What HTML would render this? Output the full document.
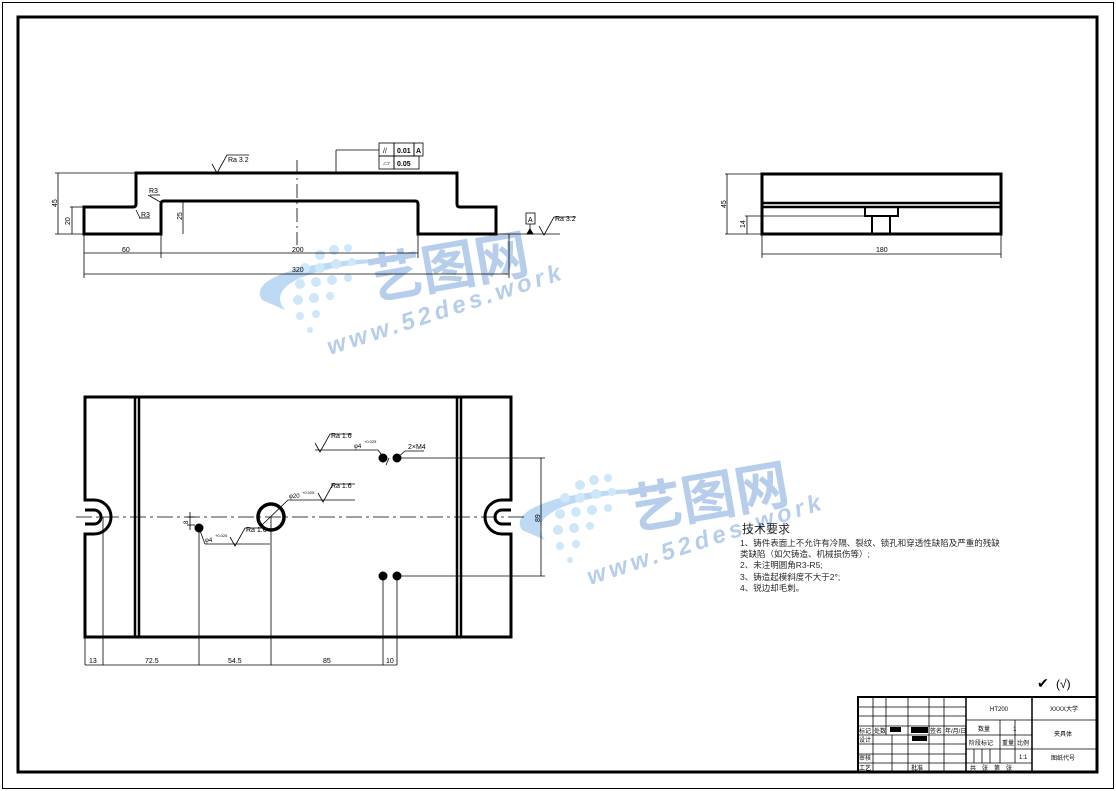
<!DOCTYPE html>
<html><head><meta charset="utf-8"><style>
html,body{margin:0;padding:0;background:#fff;width:1116px;height:791px;overflow:hidden}
svg{display:block}
text{font-family:"Liberation Sans","Noto Sans CJK SC",sans-serif;fill:#000}
</style></head><body>
<svg width="1116" height="791" viewBox="0 0 1116 791" xmlns="http://www.w3.org/2000/svg">
<rect x="0" y="0" width="1116" height="791" fill="#fff"/>
<rect x="2.5" y="2.5" width="1111" height="786" fill="none" stroke="#000" stroke-width="1"/>
<rect x="18" y="17" width="1079" height="755" fill="none" stroke="#000" stroke-width="3"/>

<!-- watermark 1 -->
<g opacity="0.5">
<path d="M262,300 Q250,282 300,268 Q360,255 400,262 Q340,262 300,278 Q270,292 285,310 Z" fill="#7fb4e8"/>
<g fill="#9fd0f5">
<circle cx="320" cy="255" r="5"/><circle cx="334" cy="250" r="5"/><circle cx="348" cy="248" r="4"/>
<circle cx="305" cy="268" r="5"/><circle cx="320" cy="268" r="5"/><circle cx="336" cy="264" r="5"/><circle cx="352" cy="262" r="4"/>
<circle cx="300" cy="284" r="5"/><circle cx="316" cy="282" r="5"/><circle cx="332" cy="280" r="5"/><circle cx="348" cy="278" r="4"/>
<circle cx="298" cy="300" r="5"/><circle cx="314" cy="298" r="5"/><circle cx="330" cy="296" r="4"/>
<circle cx="300" cy="316" r="4"/><circle cx="316" cy="314" r="4"/><circle cx="310" cy="330" r="3"/>
</g>
<text x="372" y="300" font-size="54" font-weight="bold" style="fill:#6f9fd8" transform="rotate(-10 372 300)">艺图网</text>
<text x="330" y="355" font-size="24" font-weight="bold" font-style="italic" style="fill:#6f9fd8;letter-spacing:4px" transform="rotate(-18 330 355)">www.52des.work</text>
</g>
<!-- watermark 2 -->
<g opacity="0.5">
<path d="M522,530 Q510,512 560,498 Q620,485 660,492 Q600,492 560,508 Q530,522 545,540 Z" fill="#7fb4e8"/>
<g fill="#9fd0f5">
<circle cx="580" cy="485" r="5"/><circle cx="594" cy="480" r="5"/><circle cx="608" cy="478" r="4"/>
<circle cx="565" cy="498" r="5"/><circle cx="580" cy="498" r="5"/><circle cx="596" cy="494" r="5"/><circle cx="612" cy="492" r="4"/>
<circle cx="560" cy="514" r="5"/><circle cx="576" cy="512" r="5"/><circle cx="592" cy="510" r="5"/><circle cx="608" cy="508" r="4"/>
<circle cx="558" cy="530" r="5"/><circle cx="574" cy="528" r="5"/><circle cx="590" cy="526" r="4"/>
<circle cx="560" cy="546" r="4"/><circle cx="576" cy="544" r="4"/><circle cx="570" cy="560" r="3"/>
</g>
<text x="632" y="530" font-size="54" font-weight="bold" style="fill:#6f9fd8" transform="rotate(-10 632 530)">艺图网</text>
<text x="590" y="585" font-size="24" font-weight="bold" font-style="italic" style="fill:#6f9fd8;letter-spacing:4px" transform="rotate(-18 590 585)">www.52des.work</text>
</g>

<!-- FRONT VIEW -->
<g fill="none" stroke="#000">
<path d="M84,234 V207 H133 Q136,207 136,204 V173 H457 V204 Q457,207 460,207 H496 V234 H418 V204 Q418,201 415,201 H164 Q161,201 161,204 V234 Z" stroke-width="3"/>
<g stroke-width="0.8">
<line x1="297" y1="160" x2="297" y2="245" stroke-dasharray="14,4,2,4"/>
<line x1="55" y1="173" x2="136" y2="173"/><line x1="58" y1="173" x2="58" y2="234"/>
<line x1="55" y1="234" x2="84" y2="234"/><line x1="70" y1="207" x2="84" y2="207"/><line x1="72" y1="207" x2="72" y2="234"/>
<line x1="161" y1="201" x2="186" y2="201"/><line x1="183" y1="201" x2="183" y2="234"/>
<line x1="84" y1="234" x2="84" y2="278"/><line x1="161" y1="234" x2="161" y2="258"/><line x1="418" y1="234" x2="418" y2="258"/><line x1="509" y1="234" x2="509" y2="278"/>
<line x1="84" y1="253" x2="161" y2="253"/><line x1="161" y1="253" x2="418" y2="253"/><line x1="84" y1="274" x2="509" y2="274"/>
<line x1="496" y1="234" x2="560" y2="234"/>
<line x1="336" y1="173" x2="336" y2="150"/><line x1="336" y1="150" x2="379" y2="150"/>
<path d="M212,164 l5,9 l10,-18 h22"/>
<path d="M539,226 l5,9 l10,-18 h22"/>
<line x1="148" y1="195" x2="162" y2="203"/><line x1="150" y1="195" x2="160" y2="195"/>
<line x1="136" y1="210" x2="140" y2="218"/><line x1="139" y1="218" x2="150" y2="218"/>
<rect x="379" y="143" width="15" height="13"/><rect x="394" y="143" width="20" height="13"/><rect x="414" y="143" width="9" height="13"/>
<rect x="379" y="156" width="15" height="13"/><rect x="394" y="156" width="25" height="13"/>
<rect x="526" y="213" width="9" height="11"/><line x1="530" y1="224" x2="530" y2="234"/>
</g>
<path d="M527,234 l3,-5 l3,5z" fill="#000"/>
</g>
<g font-size="7">
<text x="228" y="162">Ra 3.2</text><text x="555" y="221">Ra 3.2</text>
<text x="149" y="193">R3</text><text x="141" y="217">R3</text>
<text x="397" y="153" font-weight="bold">0.01</text><text x="416" y="153" font-weight="bold">A</text>
<text x="397" y="166" font-weight="bold">0.05</text><text x="383" y="153">//</text><text x="383" y="166">▱</text>
<text x="528" y="222">A</text>
<text x="122" y="252">60</text><text x="292" y="252">200</text><text x="292" y="272">320</text>
<text transform="translate(57,207) rotate(-90)">45</text>
<text transform="translate(70,225) rotate(-90)">20</text>
<text transform="translate(182,220) rotate(-90)">25</text>
</g>

<!-- SIDE VIEW -->
<g fill="none" stroke="#000">
<rect x="762" y="174" width="239" height="60" stroke-width="3"/>
<line x1="762" y1="203" x2="1001" y2="203" stroke-width="2.5"/>
<line x1="762" y1="207" x2="1001" y2="207" stroke-width="2.5"/>
<path d="M865,207 V216 H898 V207" stroke-width="2"/>
<path d="M872,216 V234 M890,216 V234" stroke-width="2"/>
<g stroke-width="0.8">
<line x1="725" y1="174" x2="762" y2="174"/><line x1="727" y1="174" x2="727" y2="234"/><line x1="725" y1="234" x2="762" y2="234"/>
<line x1="745" y1="216" x2="865" y2="216"/><line x1="747" y1="216" x2="747" y2="234"/>
<line x1="762" y1="234" x2="762" y2="258"/><line x1="1001" y1="234" x2="1001" y2="258"/><line x1="762" y1="254" x2="1001" y2="254"/>
</g>
</g>
<g font-size="7"><text x="876" y="252">180</text>
<text transform="translate(726,208) rotate(-90)">45</text><text transform="translate(745,228) rotate(-90)">14</text></g>

<!-- BOTTOM VIEW -->
<g fill="none" stroke="#000">
<path d="M85,397 H511 V500 H502 A17,17 0 0 0 502,534 H511 V637 H85 V534 H94 A17,17 0 0 0 94,500 H85 Z" stroke-width="3"/>
<path d="M85,510 H94 A7,7 0 0 1 94,524 H85" stroke-width="3"/>
<path d="M511,510 H502 A7,7 0 0 0 502,524 H511" stroke-width="3"/>
<line x1="135" y1="397" x2="135" y2="637" stroke-width="2.5"/><line x1="139" y1="397" x2="139" y2="637" stroke-width="2.5"/>
<line x1="457" y1="397" x2="457" y2="637" stroke-width="2.5"/><line x1="461" y1="397" x2="461" y2="637" stroke-width="2.5"/>
<circle cx="271" cy="517" r="13" stroke-width="3.5"/>
<line x1="76" y1="517" x2="525" y2="517" stroke-width="0.8" stroke-dasharray="16,4,3,4"/>
<g stroke-width="0.8">
<line x1="103" y1="517" x2="103" y2="665"/><line x1="85" y1="637" x2="85" y2="665"/>
<line x1="199" y1="528" x2="199" y2="665"/><line x1="271" y1="517" x2="271" y2="665"/>
<line x1="383" y1="576" x2="383" y2="665"/><line x1="397" y1="576" x2="397" y2="665"/>
<line x1="85" y1="665" x2="397" y2="665"/>
<line x1="397" y1="458" x2="545" y2="458"/><line x1="397" y1="576" x2="545" y2="576"/><line x1="541" y1="458" x2="541" y2="576"/>
<line x1="262" y1="525" x2="288" y2="500"/><line x1="288" y1="500" x2="355" y2="500"/>
<path d="M318,493 l5,9 l10,-18 h22"/>
<line x1="315" y1="450" x2="378" y2="450"/><path d="M315,443 l5,9 l10,-18 h22"/>
<line x1="378" y1="450" x2="384" y2="458"/><line x1="386" y1="465" x2="389" y2="458"/>
<line x1="397" y1="458" x2="405" y2="451"/><line x1="405" y1="451" x2="424" y2="451"/>
<line x1="199" y1="528" x2="205" y2="544"/><line x1="205" y1="544" x2="270" y2="544"/>
<path d="M230,537 l5,9 l10,-18 h22"/>
<line x1="190" y1="512" x2="190" y2="530"/><line x1="187" y1="517" x2="195" y2="517"/><line x1="187" y1="525" x2="195" y2="525"/>
</g>
<circle cx="199" cy="528" r="4" fill="#000"/>
<circle cx="383" cy="458" r="4" fill="#000"/><circle cx="397" cy="458" r="4" fill="#000"/>
<circle cx="383" cy="576" r="4" fill="#000"/><circle cx="397" cy="576" r="4" fill="#000"/>
</g>
<g font-size="7">
<text x="89" y="663">13</text><text x="145" y="663">72.5</text><text x="228" y="663">54.5</text><text x="323" y="663">85</text><text x="386" y="663">10</text>
<text x="331" y="438">Ra 1.6</text><text x="331" y="488">Ra 1.6</text><text x="246" y="532">Ra 1.6</text>
<text x="354" y="448" font-size="6">φ4</text><text x="364" y="443" font-size="4">+0.025</text>
<text x="289" y="498" font-size="6">φ20</text><text x="302" y="494" font-size="4">+0.025</text>
<text x="205" y="542" font-size="6">φ4</text><text x="215" y="537" font-size="4">+0.025</text>
<text x="408" y="449">2×M4</text>
<text transform="translate(540,522) rotate(-90)">89</text>
<text transform="translate(188,524) rotate(-90)" font-size="6">8</text>
</g>

<!-- TECH REQUIREMENTS -->
<g style="opacity:0.85">
<text x="742" y="533" font-size="12">技术要求</text>
<text x="740" y="546" font-size="8.5">1、铸件表面上不允许有冷隔、裂纹、锁孔和穿透性缺陷及严重的残缺</text>
<text x="740" y="557" font-size="8.5">类缺陷（如欠铸造、机械损伤等）;</text>
<text x="740" y="568" font-size="8.5">2、未注明圆角R3-R5;</text>
<text x="740" y="580" font-size="8.5">3、铸造起模斜度不大于2°;</text>
<text x="740" y="591" font-size="8.5">4、锐边却毛刺。</text>
</g>
<text x="1037" y="688" font-size="14">✔</text><text x="1056" y="688" font-size="12">(√)</text>

<!-- TITLE BLOCK -->
<g fill="none" stroke="#000" stroke-width="0.8">
<rect x="858" y="697" width="239" height="75" stroke-width="2"/>
<line x1="966" y1="697" x2="966" y2="772" stroke-width="1.5"/><line x1="1032" y1="697" x2="1032" y2="772" stroke-width="1.5"/>
<line x1="858" y1="707" x2="966" y2="707"/><line x1="858" y1="716" x2="966" y2="716"/><line x1="858" y1="726" x2="966" y2="726"/>
<line x1="858" y1="735" x2="966" y2="735"/><line x1="858" y1="744" x2="966" y2="744"/><line x1="858" y1="754" x2="966" y2="754"/><line x1="858" y1="763" x2="966" y2="763"/>
<line x1="873" y1="697" x2="873" y2="772"/><line x1="886" y1="697" x2="886" y2="735"/><line x1="892" y1="735" x2="892" y2="772"/>
<line x1="908" y1="697" x2="908" y2="772"/><line x1="929" y1="697" x2="929" y2="772"/><line x1="944" y1="697" x2="944" y2="772"/>
<line x1="966" y1="720" x2="1097" y2="720"/><line x1="966" y1="735" x2="1032" y2="735"/><line x1="966" y1="749" x2="1097" y2="749"/><line x1="966" y1="763" x2="1032" y2="763"/>
<line x1="1000" y1="720" x2="1000" y2="763"/><line x1="1015" y1="720" x2="1015" y2="763"/>
<line x1="974" y1="749" x2="974" y2="763"/><line x1="982" y1="749" x2="982" y2="763"/><line x1="990" y1="749" x2="990" y2="763"/>
</g>
<rect x="890" y="727" width="11" height="5" fill="#000"/><rect x="911" y="727" width="17" height="6" fill="#000"/><rect x="912" y="736" width="15" height="5" fill="#000"/>
<g font-size="6" style="fill:#333">
<text x="990" y="711">HT200</text><text x="1050" y="711">XXXX大学</text>
<text x="978" y="731">数量</text><text x="1013" y="731">1</text><text x="1054" y="736">夹具体</text>
<text x="969" y="745">阶段标记</text><text x="1002" y="745">重量</text><text x="1017" y="745">比例</text>
<text x="1019" y="759">1:1</text><text x="1051" y="760">图纸代号</text>
<text x="970" y="770">共　张　第　张</text>
<text x="859" y="733">标记</text><text x="874" y="733">处数</text><text x="930" y="733">签名</text><text x="945" y="733">年/月/日</text>
<text x="859" y="742">设计</text><text x="859" y="760">审核</text><text x="859" y="770">工艺</text><text x="911" y="770">批准</text>
</g>
</svg>
</body></html>
